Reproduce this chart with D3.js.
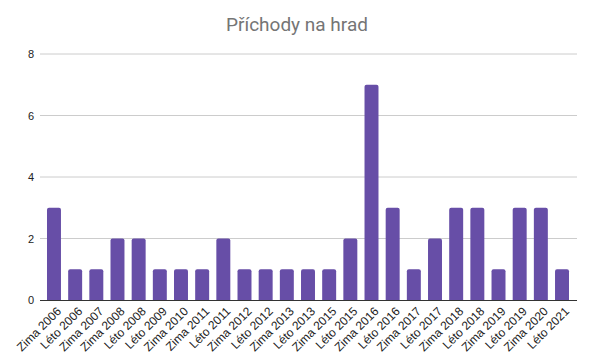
<!DOCTYPE html>
<html>
<head>
<meta charset="utf-8">
<script src="https://cdn.jsdelivr.net/npm/d3@7"></script>
<style>
  body { margin: 0; background: #fff; }
  text { font-family: "Liberation Sans", Arial, sans-serif; }
</style>
</head>
<body>
<svg id="chart"></svg>
<script>
var categories = ["Zima 2006", "Léto 2006", "Zima 2007", "Zima 2008", "Léto 2008", "Léto 2009",
  "Zima 2010", "Zima 2011", "Léto 2011", "Zima 2012", "Léto 2012", "Zima 2013", "Léto 2013",
  "Zima 2015", "Léto 2015", "Zima 2016", "Léto 2016", "Zima 2017", "Léto 2017", "Zima 2018",
  "Léto 2018", "Zima 2019", "Léto 2019", "Zima 2020", "Léto 2021"];
var values = [3, 1, 1, 2, 2, 1, 1, 1, 2, 1, 1, 1, 1, 1, 2, 7, 3, 1, 2, 3, 3, 1, 3, 3, 1];
var yTicks = [0, 2, 4, 6, 8];

var width = 593, height = 362;
var margin = { top: 54, right: 16, bottom: 62, left: 40 };

var svg = d3.select('#chart')
            .attr('width', width)
            .attr('height', height);

svg.append('text')
   .attr('x', 297)
   .attr('y', 31)
   .attr('text-anchor', 'middle')
   .style('font-family', 'Roboto, Arial, sans-serif')
   .style('font-size', '19px')
   .style('fill', '#757575')
   .text('Příchody na hrad');

var xScale = d3.scaleBand()
               .domain(categories)
               .range([margin.left + 3.4, width - margin.right - 4.4])
               .paddingInner(0.34)
               .paddingOuter(0.17);

var yScale = d3.scaleLinear()
               .domain([0, 8])
               .range([height - margin.bottom, margin.top]);

// gridlines
svg.append('g')
   .selectAll('line')
   .data(yTicks.filter(function (d) { return d > 0; }))
   .enter()
   .append('line')
   .attr('x1', margin.left)
   .attr('x2', width - margin.right)
   .attr('y1', function (d) { return yScale(d); })
   .attr('y2', function (d) { return yScale(d); })
   .style('stroke', '#cccccc')
   .style('stroke-width', 1);

var yAxis = d3.axisLeft(yScale).tickValues(yTicks).tickSize(0).tickPadding(0);
svg.append('g')
   .attr('transform', 'translate(' + (margin.left - 6) + ',0)')
   .call(yAxis)
   .call(function (g) { g.select('.domain').remove(); })
   .selectAll('text')
   .style('font-size', '11px')
   .style('fill', '#222');

// bars with slightly rounded tops
svg.append('g')
   .selectAll('path')
   .data(values)
   .enter()
   .append('path')
   .attr('d', function (d, i) {
     var x0 = xScale(categories[i]), w = xScale.bandwidth();
     var y0 = yScale(d), yb = yScale(0), r = 2;
     return 'M' + x0 + ',' + yb + 'V' + (y0 + r) + 'Q' + x0 + ',' + y0 + ' ' + (x0 + r) + ',' + y0 +
            'H' + (x0 + w - r) + 'Q' + (x0 + w) + ',' + y0 + ' ' + (x0 + w) + ',' + (y0 + r) + 'V' + yb + 'Z';
   })
   .style('fill', '#674ea7');

// baseline
svg.append('line')
   .attr('x1', margin.left)
   .attr('x2', width - margin.right)
   .attr('y1', yScale(0) + 0.5)
   .attr('y2', yScale(0) + 0.5)
   .style('stroke', '#333')
   .style('stroke-width', 1);

var xAxis = d3.axisBottom(xScale).tickSize(0).tickPadding(0);
svg.append('g')
   .attr('transform', 'translate(0,' + (yScale(0) + 6) + ')')
   .call(xAxis)
   .call(function (g) { g.select('.domain').remove(); })
   .selectAll('text')
   .attr('text-anchor', 'end')
   .attr('dy', '0.35em')
   .attr('transform', 'translate(5,3) rotate(-45)')
   .style('font-size', '12px')
   .style('fill', '#222');
</script>
</body>
</html>
